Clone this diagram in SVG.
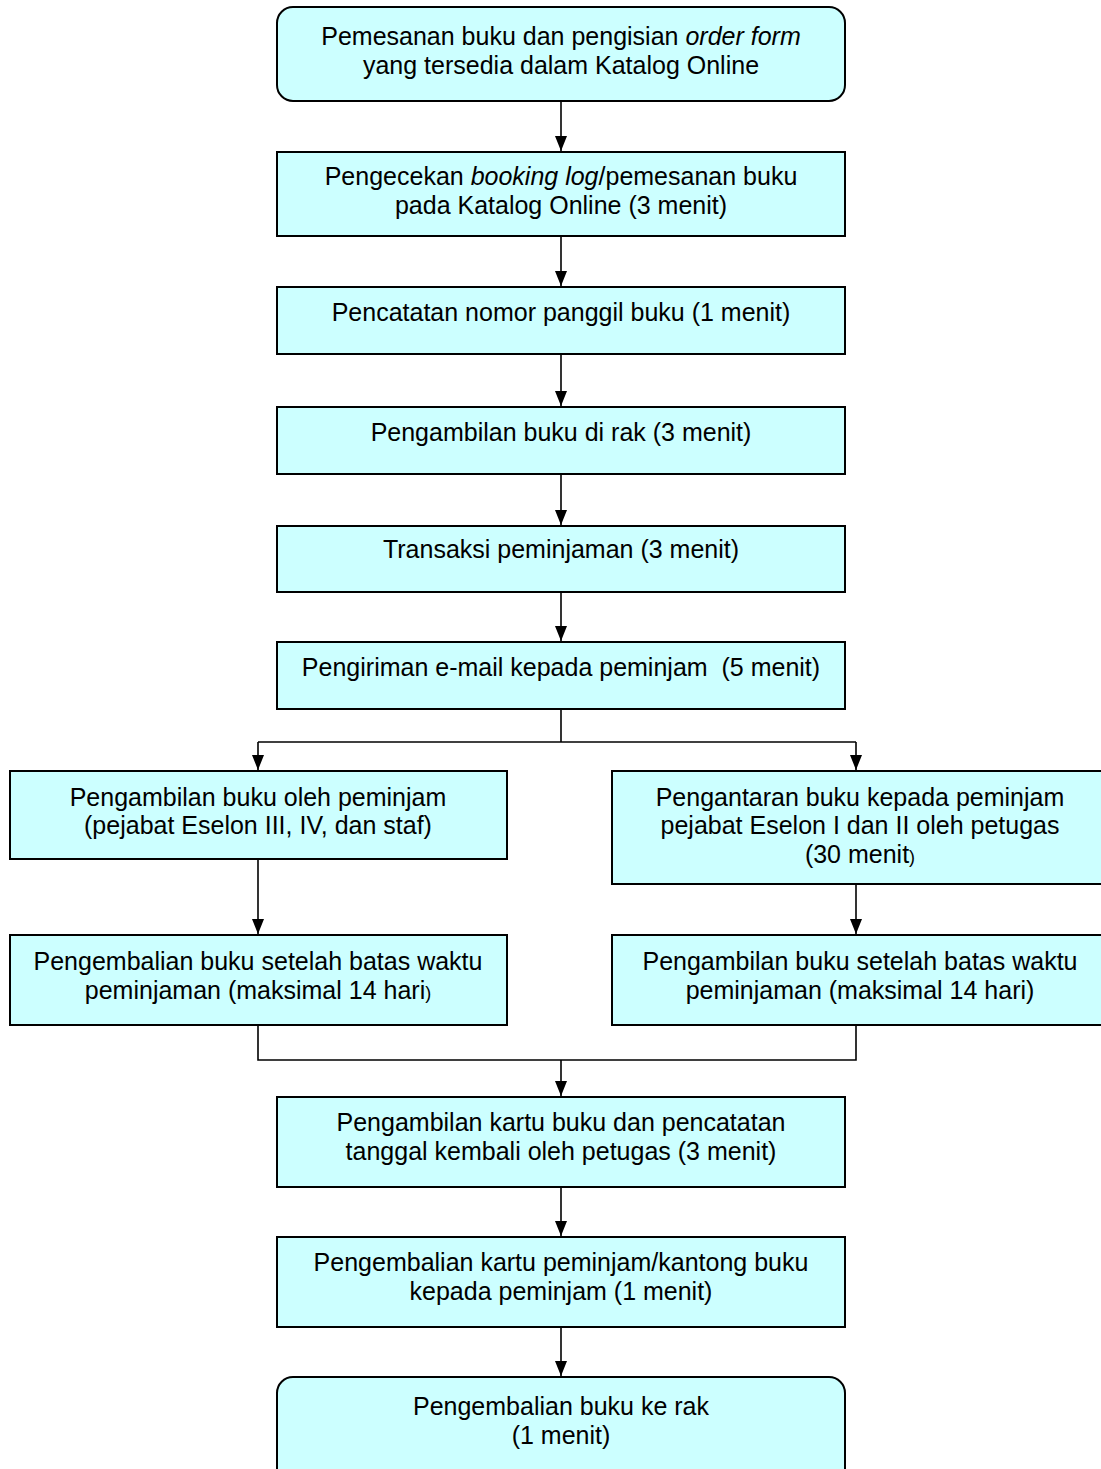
<svg xmlns="http://www.w3.org/2000/svg" width="1101" height="1469" viewBox="0 0 1101 1469">
<defs>
<style>
.box{fill:#CCFFFF;stroke:#000;stroke-width:2}
.t{font-family:"Liberation Sans",Arial,sans-serif;font-size:25px;fill:#000;text-anchor:middle}
.c{fill:none;stroke:#000;stroke-width:1.6}
.sm{font-size:18px}
</style>
<marker id="ah" markerWidth="15" markerHeight="12" refX="15" refY="6" orient="auto" markerUnits="userSpaceOnUse" viewBox="0 0 15 12">
<path d="M0,0 L15,6 L0,12 Z" fill="#000"/>
</marker>
</defs>
<rect width="1101" height="1469" fill="#fff"/>
<g id="connectors">
<path class="c" d="M561,101 V151" marker-end="url(#ah)"/>
<path class="c" d="M561,236 V286" marker-end="url(#ah)"/>
<path class="c" d="M561,354 V406" marker-end="url(#ah)"/>
<path class="c" d="M561,474 V525" marker-end="url(#ah)"/>
<path class="c" d="M561,592 V641" marker-end="url(#ah)"/>
<path class="c" d="M561,709 V742"/>
<path class="c" d="M258,742 H856"/>
<path class="c" d="M258,742 V770" marker-end="url(#ah)"/>
<path class="c" d="M856,742 V770" marker-end="url(#ah)"/>
<path class="c" d="M258,859 V934" marker-end="url(#ah)"/>
<path class="c" d="M856,884 V934" marker-end="url(#ah)"/>
<path class="c" d="M258,1025 V1060 H856 V1025"/>
<path class="c" d="M561,1060 V1096" marker-end="url(#ah)"/>
<path class="c" d="M561,1187 V1236" marker-end="url(#ah)"/>
<path class="c" d="M561,1327 V1376" marker-end="url(#ah)"/>
</g>
<g id="n1">
<rect class="box" x="277" y="7" width="568" height="94" rx="16"/>
<text class="t" x="561" y="45">Pemesanan buku dan pengisian <tspan font-style="italic">order form</tspan></text>
<text class="t" x="561" y="74">yang tersedia dalam Katalog Online</text>
</g>
<g id="n2">
<rect class="box" x="277" y="152" width="568" height="84"/>
<text class="t" x="561" y="185">Pengecekan <tspan font-style="italic">booking log</tspan>/pemesanan buku</text>
<text class="t" x="561" y="214">pada Katalog Online (3 menit)</text>
</g>
<g id="n3">
<rect class="box" x="277" y="287" width="568" height="67"/>
<text class="t" x="561" y="321">Pencatatan nomor panggil buku (1 menit)</text>
</g>
<g id="n4">
<rect class="box" x="277" y="407" width="568" height="67"/>
<text class="t" x="561" y="441">Pengambilan buku di rak (3 menit)</text>
</g>
<g id="n5">
<rect class="box" x="277" y="526" width="568" height="66"/>
<text class="t" x="561" y="558">Transaksi peminjaman (3 menit)</text>
</g>
<g id="n6">
<rect class="box" x="277" y="642" width="568" height="67"/>
<text class="t" x="561" y="676" xml:space="preserve">Pengiriman e-mail kepada peminjam  (5 menit)</text>
</g>
<g id="n7a">
<rect class="box" x="10" y="771" width="497" height="88"/>
<text class="t" x="258" y="806">Pengambilan buku oleh peminjam</text>
<text class="t" x="258" y="834">(pejabat Eselon III, IV, dan staf)</text>
</g>
<g id="n7b">
<rect class="box" x="612" y="771" width="496" height="113"/>
<text class="t" x="860" y="806">Pengantaran buku kepada peminjam</text>
<text class="t" x="860" y="834">pejabat Eselon I dan II oleh petugas</text>
<text class="t" x="860" y="863">(30 menit<tspan class="sm">)</tspan></text>
</g>
<g id="n8a">
<rect class="box" x="10" y="935" width="497" height="90"/>
<text class="t" x="258" y="970">Pengembalian buku setelah batas waktu</text>
<text class="t" x="258" y="999">peminjaman (maksimal 14 hari<tspan class="sm">)</tspan></text>
</g>
<g id="n8b">
<rect class="box" x="612" y="935" width="496" height="90"/>
<text class="t" x="860" y="970">Pengambilan buku setelah batas waktu</text>
<text class="t" x="860" y="999">peminjaman (maksimal 14 hari)</text>
</g>
<g id="n9">
<rect class="box" x="277" y="1097" width="568" height="90"/>
<text class="t" x="561" y="1131">Pengambilan kartu buku dan pencatatan</text>
<text class="t" x="561" y="1160">tanggal kembali oleh petugas (3 menit)</text>
</g>
<g id="n10">
<rect class="box" x="277" y="1237" width="568" height="90"/>
<text class="t" x="561" y="1271">Pengembalian kartu peminjam/kantong buku</text>
<text class="t" x="561" y="1300">kepada peminjam (1 menit)</text>
</g>
<g id="n11">
<rect class="box" x="277" y="1377" width="568" height="110" rx="16"/>
<text class="t" x="561" y="1415">Pengembalian buku ke rak</text>
<text class="t" x="561" y="1444">(1 menit)</text>
</g>
</svg>
